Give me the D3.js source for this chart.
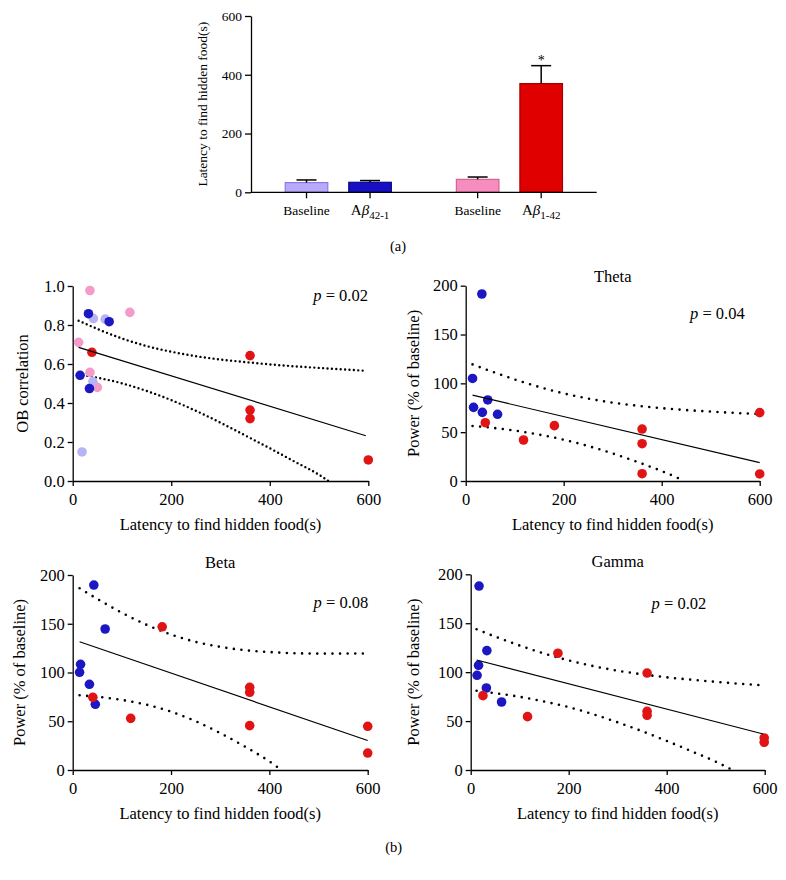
<!DOCTYPE html>
<html><head><meta charset="utf-8">
<script src="https://cdn.jsdelivr.net/npm/d3@7"></script>
<style>
body{margin:0;background:#fff}
svg{display:block}
text{font-family:'Liberation Serif','Times New Roman',serif;fill:#000}
</style>
</head><body>
<svg id="c" width="786" height="880"></svg>
<script>
// ---------------- DATA ----------------
// (a) bar chart
const barCategories = ["Baseline", "Aβ42-1", "Baseline", "Aβ1-42"];
const barGroupIndex = [0, 0, 1, 1];
const barValues = [33, 34, 44, 370];
const barErrors = [9, 6, 8, 61];
const barTicks = [0, 200, 400, 600];
const barSignificance = ["", "", "", "*"];

// (b) scatter panels
const xTicks = [0, 200, 400, 600];
const corrTicks = [0, 0.2, 0.4, 0.6, 0.8, 1.0];
const powerTicks = [0, 50, 100, 150, 200];
const panelTitles = ["", "Theta", "Beta", "Gamma"];
const panelPValues = ["0.02", "0.04", "0.08", "0.02"];

// OB correlation
const obBaselineCtrl = [[42, 0.833], [66, 0.83], [41, 0.51], [19, 0.149]];
const obBaselineAb = [[35, 0.977], [116, 0.865], [12, 0.711], [35, 0.557], [50, 0.48]];
const obCtrl = [[32, 0.858], [74, 0.817], [15, 0.542], [34, 0.474]];
const obAb = [[39, 0.66], [360, 0.643], [360, 0.364], [360, 0.32], [600, 0.108]];
const obFit = [[12, 0.685], [595, 0.232]];
const obUpper = [[12,0.822],[50,0.780],[100,0.731],[150,0.692],[200,0.663],[250,0.640],[300,0.623],[350,0.610],[400,0.598],[450,0.588],[500,0.580],[550,0.572],[590,0.566]];
const obLower = [[12,0.548],[50,0.530],[100,0.501],[150,0.462],[200,0.415],[250,0.360],[300,0.299],[350,0.234],[400,0.168],[450,0.100],[500,0.032],[519,0.0]];

// Theta
const thetaCtrl = [[33, 191.5], [14, 105], [16, 75.4], [34, 70.3], [45, 83], [65, 68.3]];
const thetaAb = [[40, 59.7], [118, 42], [181, 56.7], [360, 53.2], [360, 38.2], [360, 7.5], [600, 70], [600, 7.2]];
const thetaFit = [[14, 87.9], [600, 18.8]];
const thetaUpper = [[14,119.4],[50,112.7],[100,104.0],[150,96.3],[200,89.7],[250,84.4],[300,80.2],[350,77.1],[400,74.6],[450,72.6],[500,71.1],[550,69.7],[595,68.7]];
const thetaLower = [[14,56.4],[50,54.7],[100,51.6],[150,47.5],[200,42.3],[250,35.8],[300,28.2],[350,19.5],[400,10.2],[447,0]];

// Beta
const betaCtrl = [[43, 189.7], [66, 144.6], [16, 108.4], [14, 100.2], [34, 87.9], [46, 67.4]];
const betaAb = [[41, 74.5], [118, 53], [182, 146.9], [360, 84.8], [360, 79.7], [360, 45.5], [600, 44.8], [600, 17.4]];
const betaFit = [[14, 131.5], [600, 30.3]];
const betaUpper = [[14,186.4],[50,175.5],[100,161.3],[150,149.0],[200,139.0],[250,131.4],[300,126.3],[350,122.9],[400,121.0],[450,119.8],[500,119.4],[550,119.4],[597,119.6]];
const betaLower = [[14,76.6],[50,75.1],[100,71.9],[150,67.0],[200,59.8],[250,50.0],[300,37.9],[350,24.1],[400,8.8],[422,1]];

// Gamma
const gammaCtrl = [[17, 188], [16, 107], [13, 96.8], [33, 122], [32, 83.8], [63, 69.5]];
const gammaAb = [[25, 76], [116, 54.5], [178, 119.3], [360, 99.1], [360, 60], [360, 55.9], [599, 32.7], [599, 28.3]];
const gammaFit = [[12, 112.4], [597, 36.8]];
const gammaUpper = [[12,143.8],[50,136.3],[100,127.2],[150,119.0],[200,112.0],[250,106.2],[300,101.5],[350,97.8],[400,94.7],[450,92.3],[500,90.1],[550,88.1],[597,86.5]];
const gammaLower = [[12,81.0],[50,78.5],[100,74.8],[150,70.0],[200,64.2],[250,57.0],[300,48.7],[350,39.6],[400,29.7],[450,19.3],[500,8.5],[534,0]];

// ---------------- STYLE ----------------
const COL = {
  baseCtrl: "#b8b3f5", ctrl: "#1c17c2", baseAb: "#f59bc8", ab: "#e01414"
};
const BAR_FILL = ["#b9aaf9", "#1710c4", "#f78dbf", "#e00000"];
const BAR_STROKE = ["#8a7ae6", "#0a0780", "#d0648f", "#a30000"];

const svg = d3.select("#c");

// ---------------- (a) BAR CHART ----------------
(function () {
  const left = 251, right = 596.7, top = 16, bottom = 192.3;
  const y = d3.scaleLinear().domain([0, 600]).range([bottom, top]);
  const outer = d3.scaleBand().domain([0, 1]).range([left, right]).paddingInner(0.38).paddingOuter(0.2);
  const inner = d3.scaleBand().domain([0, 1]).range([0, outer.bandwidth()]).paddingInner(0.33).paddingOuter(0);
  const idx = barValues.map((d, i) => i);
  const within = idx.map(i => i - barGroupIndex.indexOf(barGroupIndex[i]));
  const bx = i => outer(barGroupIndex[i]) + inner(within[i]);
  const cx = i => bx(i) + inner.bandwidth() / 2;

  const g = svg.append("g");
  // y axis
  const ya = g.append("g").attr("transform", `translate(${left},0)`)
    .call(d3.axisLeft(y).tickValues(barTicks).tickSize(6).tickSizeOuter(0).tickPadding(3));
  ya.selectAll("text").attr("font-size", 13.5).attr("font-family", "'Liberation Serif',serif");
  ya.selectAll("path,line").attr("stroke", "#000").attr("stroke-width", 1.3);

  // bars
  g.selectAll("rect.bar").data(idx).join("rect")
    .attr("x", i => bx(i)).attr("width", inner.bandwidth())
    .attr("y", i => y(barValues[i])).attr("height", i => y(0) - y(barValues[i]))
    .attr("fill", i => BAR_FILL[i]).attr("stroke", i => BAR_STROKE[i]).attr("stroke-width", 1.2);
  // error bars
  g.selectAll("line.err").data(idx).join("line")
    .attr("x1", cx).attr("x2", cx)
    .attr("y1", i => y(barValues[i])).attr("y2", i => y(barValues[i] + barErrors[i]))
    .attr("stroke", "#000").attr("stroke-width", 1.5);
  g.selectAll("line.cap").data(idx).join("line")
    .attr("x1", i => cx(i) - 10).attr("x2", i => cx(i) + 10)
    .attr("y1", i => y(barValues[i] + barErrors[i])).attr("y2", i => y(barValues[i] + barErrors[i]))
    .attr("stroke", "#000").attr("stroke-width", 1.5);
  g.selectAll("text.sig").data(idx).join("text")
    .attr("x", cx).attr("y", i => y(barValues[i] + barErrors[i]) - 1)
    .attr("text-anchor", "middle").attr("font-size", 14).text(i => barSignificance[i]);

  // x axis
  g.append("line").attr("x1", left).attr("x2", right).attr("y1", bottom).attr("y2", bottom)
    .attr("stroke", "#000").attr("stroke-width", 1.3);
  g.selectAll("line.xt").data(idx).join("line")
    .attr("x1", cx).attr("x2", cx).attr("y1", bottom).attr("y2", bottom + 6)
    .attr("stroke", "#000").attr("stroke-width", 1.3);
  idx.forEach(i => {
    const lab = barCategories[i];
    const t = g.append("text").attr("x", cx(i)).attr("y", 215).attr("text-anchor", "middle").attr("font-size", 13.5);
    if (lab.startsWith("Aβ")) {
      t.append("tspan").attr("font-size", 15).text("A");
      t.append("tspan").attr("font-size", 15).attr("font-style", "italic").text("β");
      t.append("tspan").attr("font-size", 11).attr("dy", 4).text(lab.slice(2));
    } else {
      t.text(lab);
    }
  });
  // y label
  g.append("text").attr("transform", `translate(207,${(top + bottom) / 2}) rotate(-90)`)
    .attr("text-anchor", "middle").attr("font-size", 13.5).text("Latency to find hidden food(s)");
  svg.append("text").attr("x", 398).attr("y", 251).attr("text-anchor", "middle").attr("font-size", 14.5).text("(a)");
})();

// ---------------- (b) SCATTER PANELS ----------------
const panels = [
  { left: 72.7, right: 368.3, top: 286, bottom: 481, yMax: 1, yTicks: corrTicks, fmt: d3.format(".1f"),
    ylab: "OB correlation", ylabX: 22, title: panelTitles[0], pv: panelPValues[0], pvX: 368, pvY: 301,
    groups: [[obBaselineAb, COL.baseAb], [obBaselineCtrl, COL.baseCtrl], [obCtrl, COL.ctrl], [obAb, COL.ab]],
    fit: obFit, upper: obUpper, lower: obLower, dash: "0 4.4", dw: 2.4 },
  { left: 465.7, right: 759.7, top: 285.7, bottom: 481, yMax: 200, yTicks: powerTicks, fmt: d3.format("d"),
    ylab: "Power (% of baseline)", ylabX: 413, title: panelTitles[1], pv: panelPValues[1], pvX: 744.7, pvY: 318.5,
    groups: [[thetaCtrl, COL.ctrl], [thetaAb, COL.ab]],
    fit: thetaFit, upper: thetaUpper, lower: thetaLower, dash: "0 7.6", dw: 2.6 },
  { left: 72.7, right: 367.7, top: 575, bottom: 770, yMax: 200, yTicks: powerTicks, fmt: d3.format("d"),
    ylab: "Power (% of baseline)", ylabX: 19, title: panelTitles[2], pv: panelPValues[2], pvX: 368.3, pvY: 607.5,
    groups: [[betaCtrl, COL.ctrl], [betaAb, COL.ab]],
    fit: betaFit, upper: betaUpper, lower: betaLower, dash: "0 7.6", dw: 2.6 },
  { left: 470.7, right: 764.7, top: 574.3, bottom: 770, yMax: 200, yTicks: powerTicks, fmt: d3.format("d"),
    ylab: "Power (% of baseline)", ylabX: 413, title: panelTitles[3], pv: panelPValues[3], pvX: 706.3, pvY: 609,
    groups: [[gammaCtrl, COL.ctrl], [gammaAb, COL.ab]],
    fit: gammaFit, upper: gammaUpper, lower: gammaLower, dash: "0 7.6", dw: 2.6 }
];

panels.forEach(p => {
  const x = d3.scaleLinear().domain([0, 600]).range([p.left, p.right]);
  const y = d3.scaleLinear().domain([0, p.yMax]).range([p.bottom, p.top]);
  const g = svg.append("g");

  const xa = g.append("g").attr("transform", `translate(0,${p.bottom})`)
    .call(d3.axisBottom(x).tickValues(xTicks).tickSize(5).tickSizeOuter(0).tickPadding(7).tickFormat(d3.format("d")));
  const ya = g.append("g").attr("transform", `translate(${p.left},0)`)
    .call(d3.axisLeft(y).tickValues(p.yTicks).tickSize(5).tickSizeOuter(0).tickPadding(3).tickFormat(p.fmt));
  [xa, ya].forEach(a => {
    a.selectAll("text").attr("font-size", 16.5).attr("font-family", "'Liberation Serif',serif");
    a.selectAll("path,line").attr("stroke", "#000").attr("stroke-width", 1.3);
  });

  const line = d3.line().x(d => x(d[0])).y(d => y(d[1]));
  const curve = d3.line().x(d => x(d[0])).y(d => y(d[1])).curve(d3.curveMonotoneX);

  g.append("path").attr("d", curve(p.upper)).attr("fill", "none").attr("stroke", "#000")
    .attr("stroke-width", p.dw).attr("stroke-linecap", "round").attr("stroke-dasharray", p.dash);
  g.append("path").attr("d", curve(p.lower)).attr("fill", "none").attr("stroke", "#000")
    .attr("stroke-width", p.dw).attr("stroke-linecap", "round").attr("stroke-dasharray", p.dash);

  p.groups.forEach(([data, col]) => {
    g.selectAll(null).data(data).join("circle")
      .attr("cx", d => x(d[0])).attr("cy", d => y(d[1])).attr("r", 4.8).attr("fill", col);
  });

  g.append("path").attr("d", line(p.fit)).attr("fill", "none").attr("stroke", "#000").attr("stroke-width", 1.2);

  // labels
  g.append("text").attr("x", (p.left + p.right) / 2).attr("y", p.bottom + 49)
    .attr("text-anchor", "middle").attr("font-size", 16.5).text("Latency to find hidden food(s)");
  g.append("text").attr("transform", `translate(${p.ylabX},${(p.top + p.bottom) / 2}) rotate(-90)`)
    .attr("dy", "0.35em").attr("text-anchor", "middle").attr("font-size", 16.5).text(p.ylab);
  if (p.title) {
    g.append("text").attr("x", (p.left + p.right) / 2).attr("y", p.top - (p.top < 400 ? 4 : 7.3))
      .attr("text-anchor", "middle").attr("font-size", 16.5).text(p.title);
  }
  const pt = g.append("text").attr("x", p.pvX).attr("y", p.pvY).attr("text-anchor", "end").attr("font-size", 16.5);
  pt.append("tspan").attr("font-style", "italic").text("p");
  pt.append("tspan").text(" = " + p.pv);
});

svg.append("text").attr("x", 393.7).attr("y", 852).attr("text-anchor", "middle").attr("font-size", 14.5).text("(b)");
</script>
</body></html>
